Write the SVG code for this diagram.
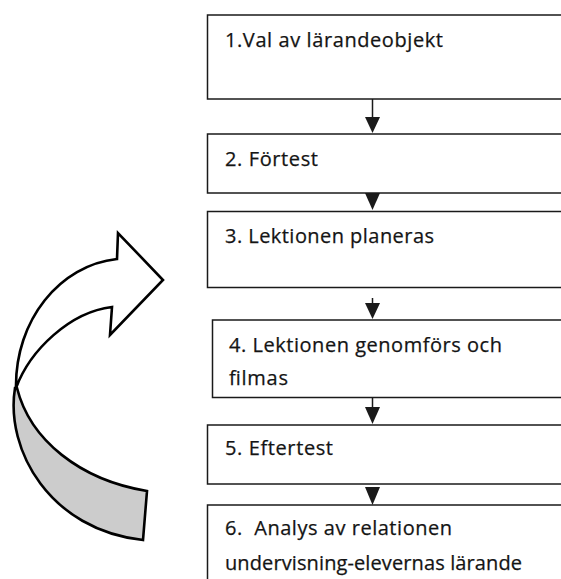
<svg xmlns="http://www.w3.org/2000/svg" width="561" height="579" viewBox="0 0 561 579">
<style>
.box{fill:#fff;stroke:#1a1a1a;stroke-width:1.5}
.t{font-family:"Open Sans","Liberation Sans",sans-serif;font-size:20px;fill:#141414;stroke:#141414;stroke-width:0.25}
.ln{stroke:#1a1a1a;stroke-width:1.5;fill:none}
.hd{fill:#1a1a1a}
.cv{stroke:#000;stroke-width:2.6;stroke-linejoin:miter}
</style>
<rect width="561" height="579" fill="#fff"/>
<g id="curved-arrow">
<path class="cv" fill="#cccccc" d="M15,388 C5,450 50,530 143,540 L147,491 C80,480 30,440 17,388 Z"/>
<path class="cv" fill="#fff" d="M16,388 C15,320 60,265 117,259 L118,233 L163,280 L110,335 L112,307 C70,312 30,350 16,388 Z"/>
</g>
<g id="connectors">
<line class="ln" x1="372.5" y1="99" x2="372.5" y2="118"/>
<polygon class="hd" points="365,117 380,117 372.5,133"/>
<polygon class="hd" points="365,193 380,193 372.5,210"/>
<line class="ln" x1="372.5" y1="298" x2="372.5" y2="304"/>
<polygon class="hd" points="365,303 380,303 372.5,319"/>
<line class="ln" x1="372.5" y1="398" x2="372.5" y2="408"/>
<polygon class="hd" points="365,407 380,407 372.5,424"/>
<polygon class="hd" points="365,487 380,487 372.5,505"/>
</g>
<g id="node1"><rect class="box" x="207.5" y="15" width="370" height="84"/><text class="t" x="225" y="47" textLength="218" lengthAdjust="spacing">1.Val av lärandeobjekt</text></g>
<g id="node2"><rect class="box" x="207.5" y="134" width="370" height="59"/><text class="t" x="225" y="166" textLength="93" lengthAdjust="spacing">2. Förtest</text></g>
<g id="node3"><rect class="box" x="207.5" y="211.5" width="370" height="76"/><text class="t" x="225" y="243" textLength="209" lengthAdjust="spacing">3. Lektionen planeras</text></g>
<g id="node4"><rect class="box" x="212.5" y="320" width="370" height="77.5"/><text class="t" x="229" y="352" textLength="273" lengthAdjust="spacing">4. Lektionen genomförs och</text><text class="t" x="229" y="385" textLength="59" lengthAdjust="spacing">filmas</text></g>
<g id="node5"><rect class="box" x="207.5" y="425" width="370" height="59"/><text class="t" x="225" y="455" textLength="108" lengthAdjust="spacing">5. Eftertest</text></g>
<g id="node6"><rect class="box" x="207.5" y="505" width="370" height="90"/><text class="t" x="225" y="535" xml:space="preserve" textLength="227" lengthAdjust="spacing">6.  Analys av relationen</text><text class="t" x="225" y="570" textLength="297" lengthAdjust="spacing">undervisning-elevernas lärande</text></g>
</svg>
